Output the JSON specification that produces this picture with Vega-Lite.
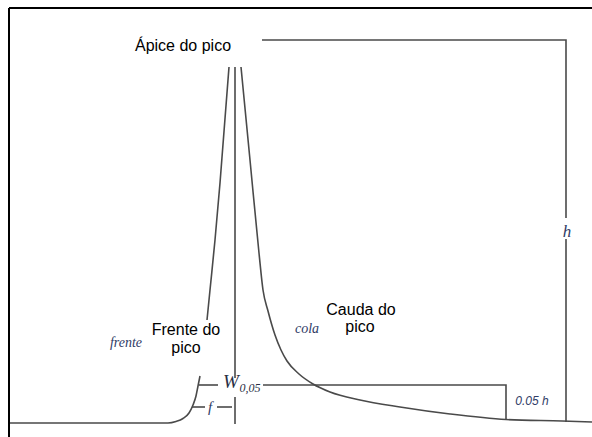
{
  "$schema": "https://vega.github.io/schema/vega-lite/v6.json",
  "width": 592,
  "height": 437,
  "padding": 0,
  "autosize": {"type": "none"},
  "background": "white",
  "config": {"view": {"stroke": null}},
  "datasets": {
    "paths": [
      {"seg": "border_top", "kind": "border", "ord": 1, "x": 9, "y": 8},
      {"seg": "border_top", "kind": "border", "ord": 2, "x": 592, "y": 8},
      {"seg": "border_left", "kind": "border", "ord": 1, "x": 9, "y": 8},
      {"seg": "border_left", "kind": "border", "ord": 2, "x": 9, "y": 437},
      {"seg": "front_low", "kind": "line", "ord": 1, "x": 10, "y": 423},
      {"seg": "front_low", "kind": "line", "ord": 2, "x": 168, "y": 423},
      {"seg": "front_low", "kind": "line", "ord": 3, "x": 176, "y": 421.5},
      {"seg": "front_low", "kind": "line", "ord": 4, "x": 183, "y": 418.5},
      {"seg": "front_low", "kind": "line", "ord": 5, "x": 189, "y": 413},
      {"seg": "front_low", "kind": "line", "ord": 6, "x": 193, "y": 405},
      {"seg": "front_low", "kind": "line", "ord": 7, "x": 196, "y": 396},
      {"seg": "front_low", "kind": "line", "ord": 8, "x": 198, "y": 386},
      {"seg": "front_low", "kind": "line", "ord": 9, "x": 200, "y": 376},
      {"seg": "front_up", "kind": "line", "ord": 1, "x": 207, "y": 320},
      {"seg": "front_up", "kind": "line", "ord": 2, "x": 210, "y": 290},
      {"seg": "front_up", "kind": "line", "ord": 3, "x": 215, "y": 240},
      {"seg": "front_up", "kind": "line", "ord": 4, "x": 220, "y": 183},
      {"seg": "front_up", "kind": "line", "ord": 5, "x": 229, "y": 67},
      {"seg": "center_up", "kind": "line", "ord": 1, "x": 235, "y": 67},
      {"seg": "center_up", "kind": "line", "ord": 2, "x": 235, "y": 378},
      {"seg": "center_low", "kind": "line", "ord": 1, "x": 235, "y": 397},
      {"seg": "center_low", "kind": "line", "ord": 2, "x": 235, "y": 424},
      {"seg": "tail", "kind": "line", "ord": 1, "x": 241, "y": 67},
      {"seg": "tail", "kind": "line", "ord": 2, "x": 250, "y": 160},
      {"seg": "tail", "kind": "line", "ord": 3, "x": 259, "y": 253},
      {"seg": "tail", "kind": "line", "ord": 4, "x": 263, "y": 290},
      {"seg": "tail", "kind": "line", "ord": 5, "x": 268, "y": 311},
      {"seg": "tail", "kind": "line", "ord": 6, "x": 275, "y": 335},
      {"seg": "tail", "kind": "line", "ord": 7, "x": 281, "y": 350},
      {"seg": "tail", "kind": "line", "ord": 8, "x": 287, "y": 361},
      {"seg": "tail", "kind": "line", "ord": 9, "x": 299, "y": 374},
      {"seg": "tail", "kind": "line", "ord": 10, "x": 313, "y": 384},
      {"seg": "tail", "kind": "line", "ord": 11, "x": 330, "y": 392},
      {"seg": "tail", "kind": "line", "ord": 12, "x": 360, "y": 400},
      {"seg": "tail", "kind": "line", "ord": 13, "x": 400, "y": 407},
      {"seg": "tail", "kind": "line", "ord": 14, "x": 450, "y": 414},
      {"seg": "tail", "kind": "line", "ord": 15, "x": 506, "y": 419.5},
      {"seg": "tail", "kind": "line", "ord": 16, "x": 562, "y": 421},
      {"seg": "tail", "kind": "line", "ord": 17, "x": 592, "y": 422},
      {"seg": "w_left", "kind": "line", "ord": 1, "x": 199, "y": 385},
      {"seg": "w_left", "kind": "line", "ord": 2, "x": 218, "y": 385},
      {"seg": "w_right", "kind": "line", "ord": 1, "x": 263, "y": 385},
      {"seg": "w_right", "kind": "line", "ord": 2, "x": 506, "y": 385},
      {"seg": "w_right", "kind": "line", "ord": 3, "x": 506, "y": 420},
      {"seg": "f_left", "kind": "line", "ord": 1, "x": 192, "y": 407},
      {"seg": "f_left", "kind": "line", "ord": 2, "x": 205, "y": 407},
      {"seg": "f_right", "kind": "line", "ord": 1, "x": 217, "y": 407},
      {"seg": "f_right", "kind": "line", "ord": 2, "x": 232, "y": 407},
      {"seg": "apex", "kind": "line", "ord": 1, "x": 262, "y": 40},
      {"seg": "apex", "kind": "line", "ord": 2, "x": 566, "y": 40},
      {"seg": "apex", "kind": "line", "ord": 3, "x": 566, "y": 218},
      {"seg": "h_low", "kind": "line", "ord": 1, "x": 566, "y": 239},
      {"seg": "h_low", "kind": "line", "ord": 2, "x": 566, "y": 422}
    ],
    "labels": [
      {"kind": "sans", "x": 183, "y": 46, "text": "Ápice do pico"},
      {"kind": "sans", "x": 186, "y": 330, "text": "Frente do"},
      {"kind": "sans", "x": 186, "y": 348, "text": "pico"},
      {"kind": "sans", "x": 361, "y": 310, "text": "Cauda do"},
      {"kind": "sans", "x": 360, "y": 327, "text": "pico"},
      {"kind": "note", "x": 126, "y": 343, "text": "frente"},
      {"kind": "note", "x": 307, "y": 329, "text": "cola"},
      {"kind": "big", "x": 231, "y": 382, "text": "W"},
      {"kind": "sub", "x": 250, "y": 388, "text": "0,05"},
      {"kind": "mid", "x": 210, "y": 407, "text": "f"},
      {"kind": "h", "x": 567, "y": 232, "text": "h"},
      {"kind": "small", "x": 532, "y": 401, "text": "0.05 h"}
    ]
  },
  "encoding": {
    "x": {"field": "x", "type": "quantitative", "axis": null, "scale": {"domain": [0, 592], "nice": false, "zero": false}},
    "y": {"field": "y", "type": "quantitative", "axis": null, "scale": {"domain": [0, 437], "nice": false, "zero": false, "reverse": true}}
  },
  "layer": [
    {
      "data": {"name": "paths"},
      "transform": [{"filter": "datum.kind === 'line'"}],
      "mark": {"type": "line", "stroke": "#4a4a4a", "strokeWidth": 1.6, "interpolate": "monotone"},
      "encoding": {"detail": {"field": "seg"}, "order": {"field": "ord", "type": "quantitative"}}
    },
    {
      "data": {"name": "paths"},
      "transform": [{"filter": "datum.kind === 'border'"}],
      "mark": {"type": "line", "stroke": "#000000", "strokeWidth": 2},
      "encoding": {"detail": {"field": "seg"}, "order": {"field": "ord", "type": "quantitative"}}
    },
    {
      "data": {"name": "labels"},
      "transform": [{"filter": "datum.kind === 'sans'"}],
      "mark": {"type": "text", "font": "Liberation Sans", "fontSize": 16, "color": "#000000", "align": "center", "baseline": "middle"},
      "encoding": {"text": {"field": "text"}}
    },
    {
      "data": {"name": "labels"},
      "transform": [{"filter": "datum.kind === 'note'"}],
      "mark": {"type": "text", "font": "Liberation Serif", "fontStyle": "italic", "fontSize": 14, "color": "#2f3c66", "align": "center", "baseline": "middle"},
      "encoding": {"text": {"field": "text"}}
    },
    {
      "data": {"name": "labels"},
      "transform": [{"filter": "datum.kind === 'big'"}],
      "mark": {"type": "text", "font": "Liberation Serif", "fontStyle": "italic", "fontSize": 19, "color": "#2a2f45", "align": "center", "baseline": "middle"},
      "encoding": {"text": {"field": "text"}}
    },
    {
      "data": {"name": "labels"},
      "transform": [{"filter": "datum.kind === 'sub'"}],
      "mark": {"type": "text", "font": "Liberation Serif", "fontStyle": "italic", "fontSize": 12, "color": "#2a2f45", "align": "center", "baseline": "middle"},
      "encoding": {"text": {"field": "text"}}
    },
    {
      "data": {"name": "labels"},
      "transform": [{"filter": "datum.kind === 'mid'"}],
      "mark": {"type": "text", "font": "Liberation Serif", "fontStyle": "italic", "fontSize": 15, "color": "#2f3c66", "align": "center", "baseline": "middle"},
      "encoding": {"text": {"field": "text"}}
    },
    {
      "data": {"name": "labels"},
      "transform": [{"filter": "datum.kind === 'h'"}],
      "mark": {"type": "text", "font": "Liberation Serif", "fontStyle": "italic", "fontSize": 17, "color": "#2f3c66", "align": "center", "baseline": "middle"},
      "encoding": {"text": {"field": "text"}}
    },
    {
      "data": {"name": "labels"},
      "transform": [{"filter": "datum.kind === 'small'"}],
      "mark": {"type": "text", "font": "Liberation Sans", "fontStyle": "italic", "fontSize": 12, "color": "#2f3c66", "align": "center", "baseline": "middle"},
      "encoding": {"text": {"field": "text"}}
    }
  ]
}
